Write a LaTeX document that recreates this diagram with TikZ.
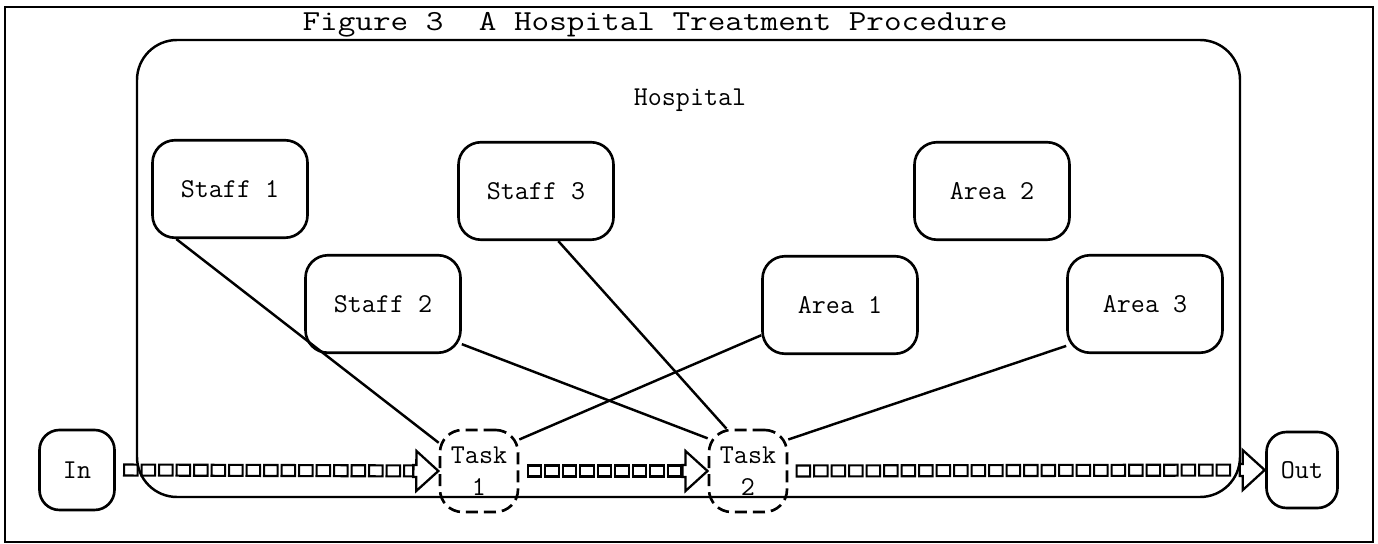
\documentclass[tikz,border=0pt]{standalone}
\usetikzlibrary{positioning,decorations.markings}
\newcommand{\boxfont}{\ttfamily\fontsize{15.5}{18}\selectfont}
\newcommand{\titlefont}{\ttfamily\fontsize{16.5}{20}\selectfont}

\begin{document}
\begin{tikzpicture}[
        box/.style={draw, rectangle, rounded corners=0.45cm, line width=1.5pt, align=center, minimum width=3.1cm, minimum height=1.95cm, font=\boxfont},
        task/.style={box, dash pattern=on 0.24cm off 0.12cm, minimum width=1.56cm, minimum height=1.64cm, inner sep=1pt},
        port/.style={box, minimum width=1.5cm, minimum height=1.6cm, rounded corners=0.4cm},
        link/.style={line width=1.4pt},
        flow/.style={postaction={decorate}, decoration={markings,
            mark=between positions 0.3cm and -0.5cm step 0.35cm with {\draw[line width=1.2pt] (-0.135,-0.11) rectangle (0.135,0.11);},
            mark=at position 0.999 with {\draw[line width=1.3pt, fill=white] (0,0) -- (-0.44,0.4) -- (-0.44,0.12) -- (-0.5,0.12) -- (-0.5,-0.12) -- (-0.44,-0.12) -- (-0.44,-0.4) -- cycle;}}}
    ]
        \useasboundingbox (0,0) rectangle (27.56,10.88);

        % Frame and title
        \node[draw, line width=1.2pt, minimum width=27.36cm, minimum height=10.7cm] (frame) at (13.78,5.39) {};
        \node[font=\titlefont, anchor=base, xscale=1.18, transform shape] (title) at (13.1,10.26) {Figure 3\ \ A Hospital Treatment Procedure};

        % Hospital
        \node[draw, rectangle, rounded corners=0.8cm, line width=1.4pt, minimum width=22.06cm, minimum height=9.14cm] (hosp) at (13.77,5.51) {};
        \node[font=\boxfont] (hosplabel) at (13.8,8.88) {Hospital};

        % Staff and areas
        \node[box] (staff1) at (4.6,7.1) {Staff 1};
        \node[box] (staff3) at (10.72,7.06) {Staff 3};
        \node[box] (area2) at (19.84,7.06) {Area 2};
        \node[box] (staff2) at (7.66,4.8) {Staff 2};
        \node[box] (area1) at (16.8,4.78) {Area 1};
        \node[box] (area3) at (22.9,4.8) {Area 3};

        % Tasks
        \node[task] (task1) at (9.58,1.46) {Task\\1};
        \node[task] (task2) at (14.96,1.46) {Task\\2};

        % In and out
        \node[port] (in) at (1.54,1.48) {In};
        \node[port, minimum width=1.42cm, minimum height=1.52cm] (out) at (26.04,1.48) {Out};

        % Flow
        \path[flow] (in.east) -- (task1.west);
        \path[flow] (task1.east) -- (task2.west);
        \path[flow] (task2.east) -- (out.west);

        % Links
        \draw[link] (staff1.-137) -- (task1.145);
        \draw[link] (staff3.-66) -- (task2.117);
        \draw[link] (staff2.-27) -- (task2.141);
        \draw[link] (area1.201) -- (task1.38);
        \draw[link] (area3.208) -- (task2.38);

    \end{tikzpicture}
\end{document}
